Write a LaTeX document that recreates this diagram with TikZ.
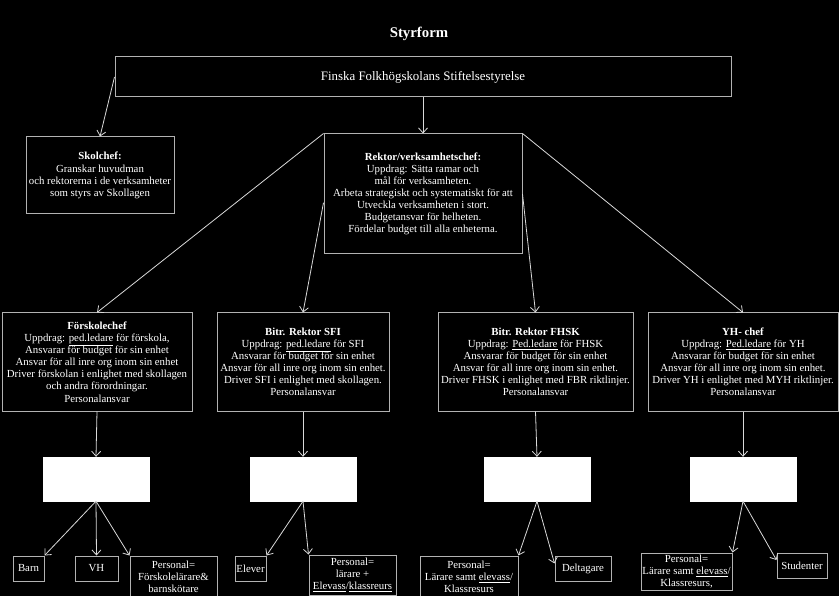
\documentclass[tikz,border=0pt]{standalone}
\usepackage{fontspec}
\setmainfont{Liberation Serif}
\usepackage{tikz}
\usetikzlibrary{arrows.meta}
\usetikzlibrary{positioning}

\begin{document}
\begin{tikzpicture}[x=1pt, y=-1pt]
\tikzstyle{box}=[draw=black!30, line width=1pt, fill=black, text=white, align=center,
                  inner sep=0.5pt, font=\fontsize{10.8}{12.1}\selectfont]  ;
\tikzstyle{blank}=[draw=white, fill=white, minimum width=106pt, minimum height=44pt];
\tikzstyle{arr}=[draw=black!15, line width=0.8pt, -{Straight Barb[length=5pt, width=9pt]}];
%background and page size
\fill[black] (0,0) rectangle (839,596);
\useasboundingbox (0,0) rectangle (839,596);
\node[text=white, font=\bfseries\fontsize{14.8}{17}\selectfont] (title) at (419,34) {Styrform};
\node[box, minimum width=616pt, minimum height=40pt, font=\fontsize{12.9}{15}\selectfont] (top) at (423,77) {Finska Folkhögskolans Stiftelsestyrelse};
\node[box, minimum width=148pt, minimum height=77pt] (skol) at (100,175.5) {\textbf{Skolchef:}\\Granskar huvudman\\och rektorerna i de verksamheter\\som styrs av Skollagen};
\node[box, minimum width=198pt, minimum height=120pt] (rektor) at (423,194) {\textbf{Rektor/verksamhetschef:}\\Uppdrag: Sätta ramar och\\mål för verksamheten.\\Arbeta strategiskt och systematiskt för att\\Utveckla verksamheten i stort.\\Budgetansvar för helheten.\\Fördelar budget till alla enheterna.};
%unit heads
\node[box, minimum width=190pt, minimum height=98pt] (forsk) at (97,362) {\textbf{Förskolechef}\\Uppdrag: \underline{ped.ledare} för förskola,\\Ansvarar för budget för sin enhet\\Ansvar för all inre org inom sin enhet\\Driver förskolan i enlighet med skollagen\\och andra förordningar.\\Personalansvar};
\node[box, minimum width=172pt, minimum height=98pt] (sfi) at (303,362) {\textbf{Bitr. Rektor SFI}\\Uppdrag: \underline{ped.ledare} för SFI\\Ansvarar för budget för sin enhet\\Ansvar för all inre org inom sin enhet.\\Driver SFI i enlighet med skollagen.\\Personalansvar};
\node[box, minimum width=195pt, minimum height=98pt] (fhsk) at (535.5,362) {\textbf{Bitr. Rektor FHSK}\\Uppdrag: \underline{Ped.ledare} för FHSK\\Ansvarar för budget för sin enhet\\Ansvar för all inre org inom sin enhet.\\Driver FHSK i enlighet med FBR riktlinjer.\\Personalansvar};
\node[box, minimum width=190pt, minimum height=98pt] (yh) at (743,362) {\textbf{YH- chef}\\Uppdrag: \underline{Ped.ledare} för YH\\Ansvarar för budget för sin enhet\\Ansvar för all inre org inom sin enhet.\\Driver YH i enlighet med MYH riktlinjer.\\Personalansvar};
%empty white boxes
\node[blank] (b1) at (96,479) {};
\node[blank] (b2) at (303,479) {};
\node[blank] (b3) at (537,479) {};
\node[blank] (b4) at (743,479) {};
%leaves
\node[box, minimum width=31pt, minimum height=25pt] (barn) at (28.5,568.5) {Barn};
\node[box, minimum width=43pt, minimum height=25pt] (vh) at (96.5,568.5) {VH};
\node[box, minimum width=87pt, minimum height=42pt] (persF) at (173.5,577) {Personal=\\Förskolelärare\&\\barnskötare};
\node[box, minimum width=31pt, minimum height=25pt] (elever) at (250.5,568.5) {Elever};
\node[box, minimum width=87pt, minimum height=40pt] (persS) at (352.5,575) {Personal=\\lärare +\\\underline{Elevass}/\underline{klassreurs}};
\node[box, minimum width=98pt, minimum height=42pt] (persH) at (469,577) {Personal=\\Lärare samt \underline{elevass}/\\Klassresurs};
\node[box, minimum width=56pt, minimum height=25pt] (delt) at (583,568.5) {Deltagare};
\node[box, minimum width=91pt, minimum height=37pt] (persY) at (686.5,571.5) {Personal=\\Lärare samt \underline{elevass}/\\Klassresurs,};
\node[box, minimum width=50pt, minimum height=25pt] (stud) at (802,565.5) {Studenter};
%connectors
\draw[arr] (top.west) -- (skol.north);
\draw[arr] (top.south) -- (rektor.north);
\draw[arr] (rektor.north west) -- (forsk.north);
\draw[arr] (rektor.185) -- (sfi.north);
\draw[arr] (rektor.east) -- (fhsk.north);
\draw[arr] (rektor.north east) -- (yh.north);
\foreach \u/\b in {forsk/b1, sfi/b2, fhsk/b3, yh/b4}
{\draw[arr] (\u.south) -- (\b.north);}
\draw[arr] (b1.south) -- (barn.north east);
\draw[arr] (b1.south) -- (vh.north);
\draw[arr] (b1.south) -- (persF.north west);
\draw[arr] (b2.south) -- (elever.north east);
\draw[arr] (b2.south) -- (persS.north west);
\draw[arr] (b3.south) -- (persH.north east);
\draw[arr] (b3.south) -- (delt.170);
\draw[arr] (b4.south) -- (persY.north east);
\draw[arr] (b4.south) -- (stud.168);
\end{tikzpicture}
\end{document}
